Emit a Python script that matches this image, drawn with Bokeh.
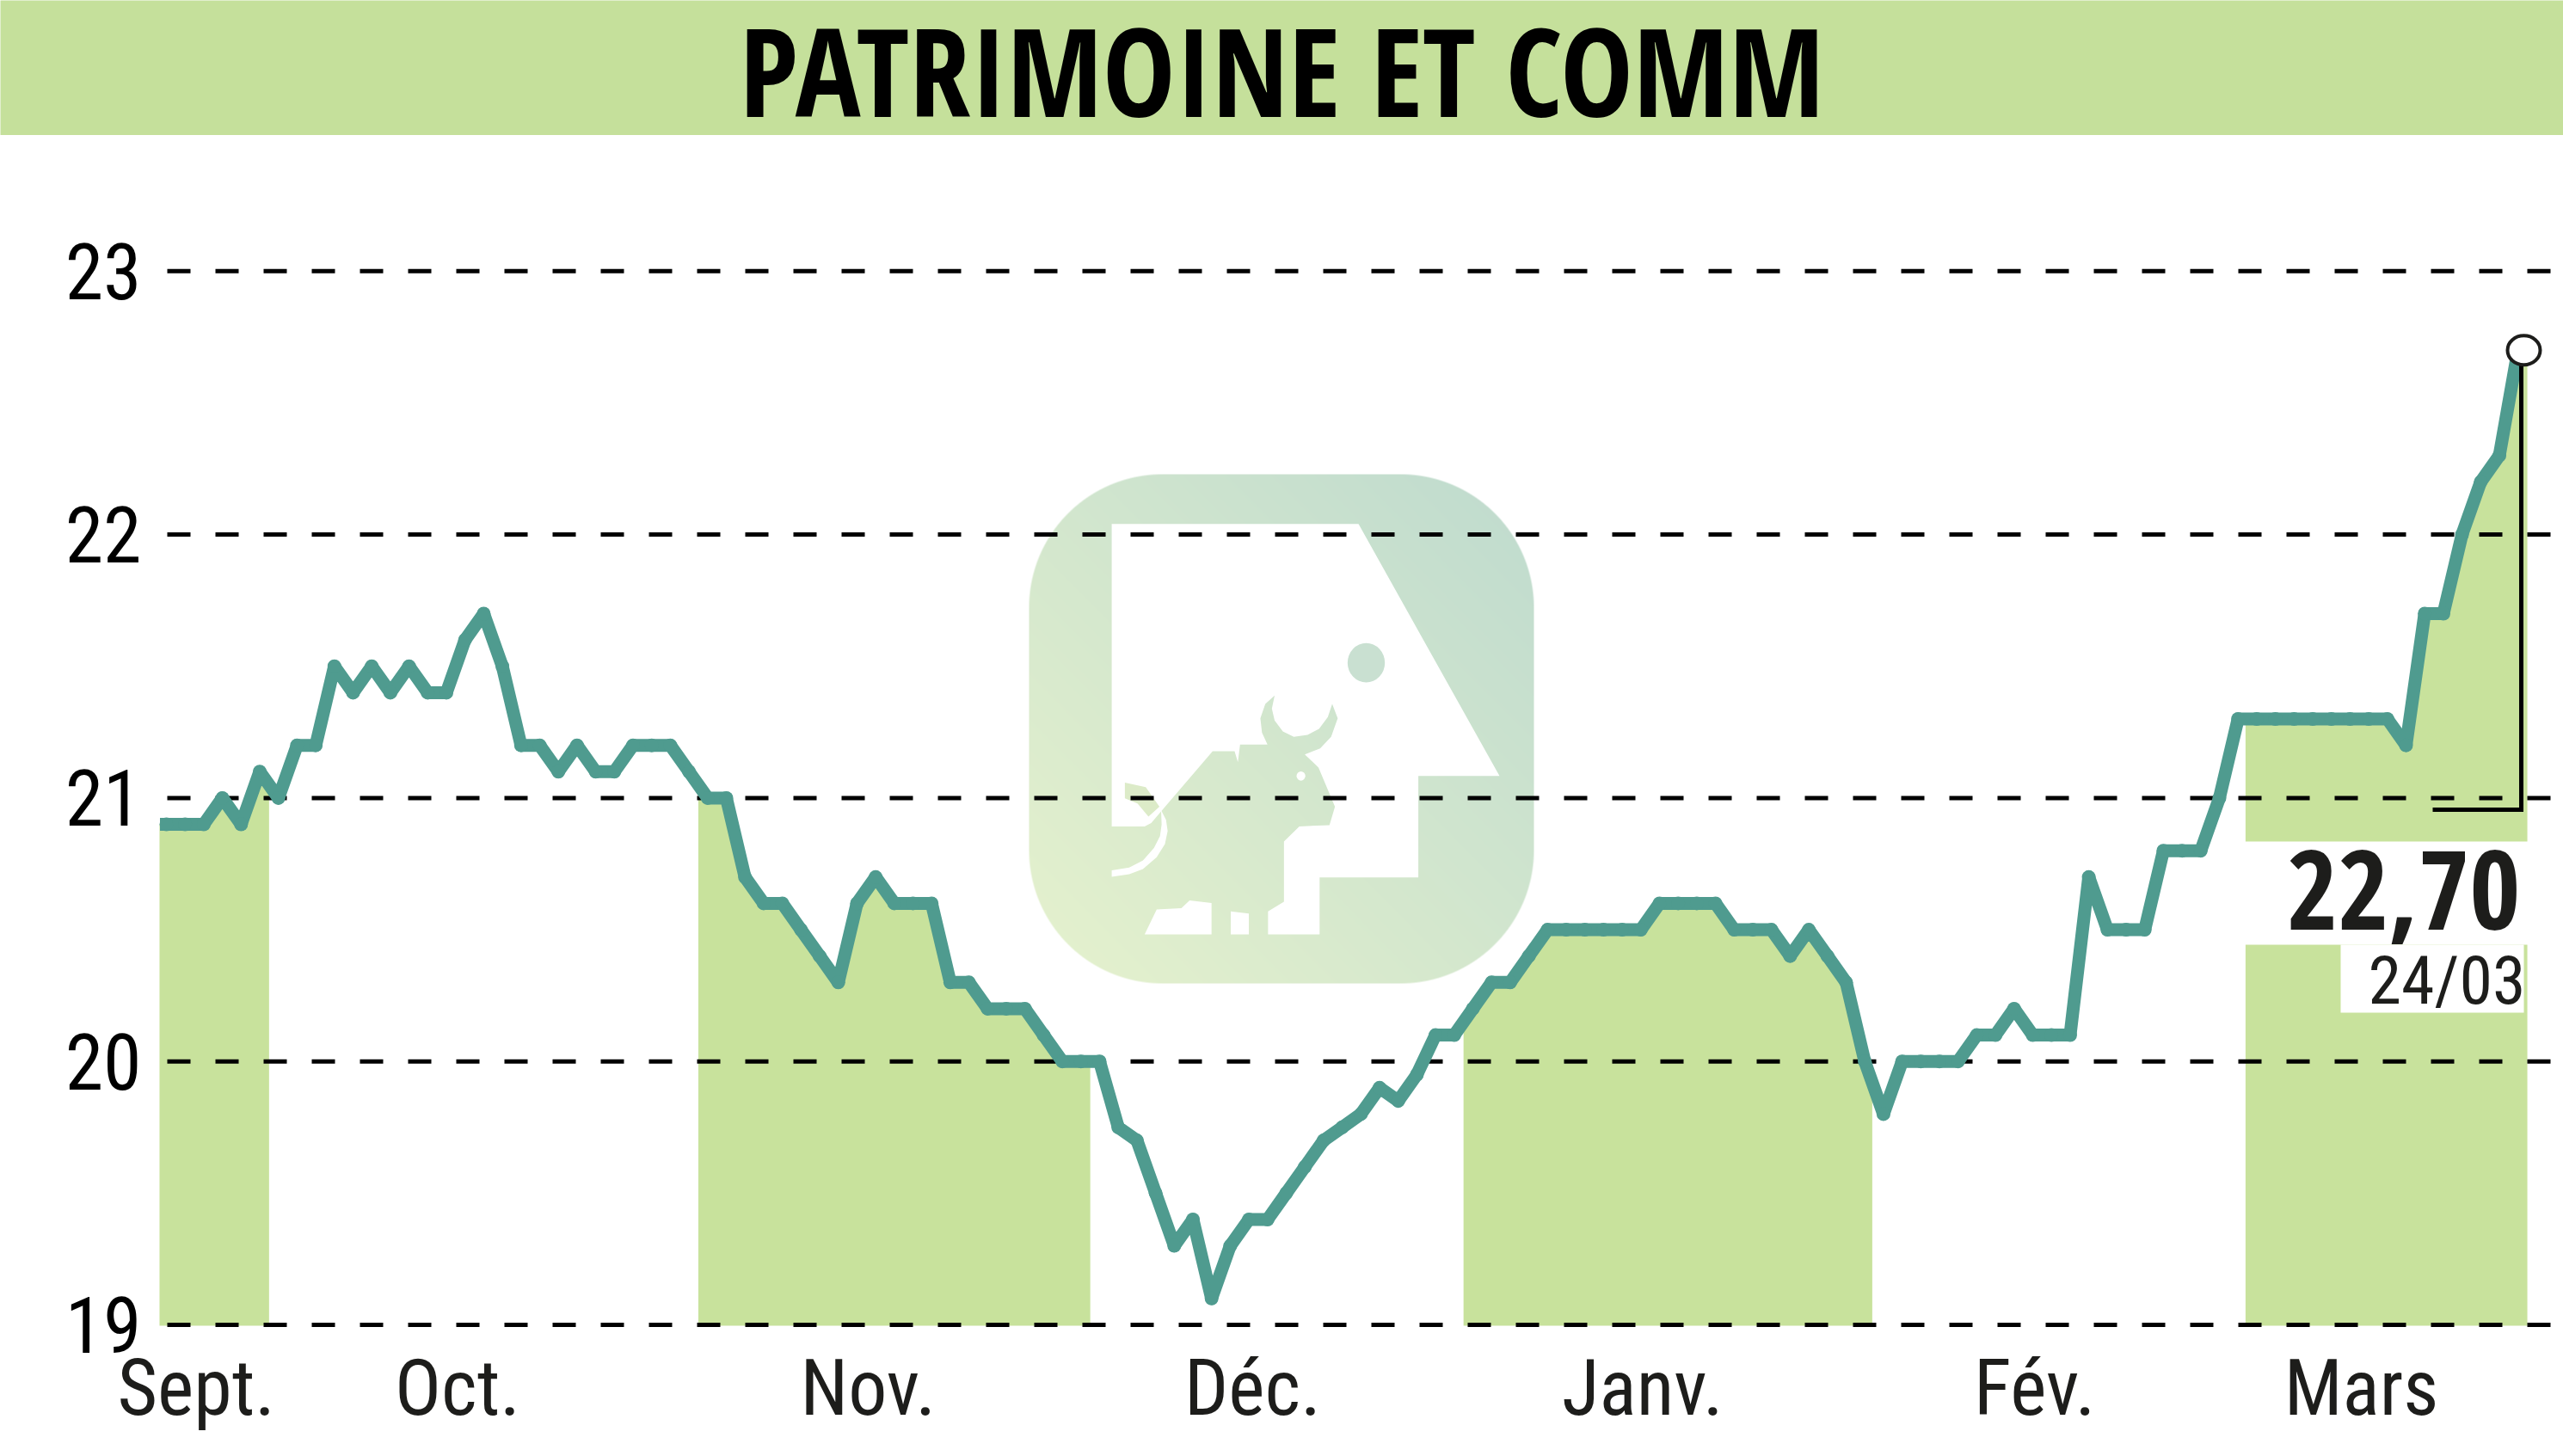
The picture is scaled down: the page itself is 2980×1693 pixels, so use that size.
import numpy as np
from bokeh.plotting import figure
from bokeh.layouts import column
from bokeh.embed import file_html
from bokeh.resources import INLINE
from bokeh.core.properties import value
from bokeh.models import FixedTicker, Range1d

TITLE = "PATRIMOINE ET COMM"
DATE_LABEL = "24/03"
prices = [20.9,20.9,20.9,21.0,20.9,21.1,21.0,21.2,21.2,21.5,21.4,21.5,21.4,21.5,21.4,21.4,21.6,21.7,21.5,21.2,
          21.2,21.1,21.2,21.1,21.1,21.2,21.2,21.2,21.1,21.0,21.0,20.7,20.6,20.6,20.5,20.4,20.3,20.6,20.7,20.6,
          20.6,20.6,20.3,20.3,20.2,20.2,20.2,20.1,20.0,20.0,20.0,19.75,19.7,19.5,19.3,19.4,19.1,19.3,19.4,19.4,
          19.5,19.6,19.7,19.75,19.8,19.9,19.85,19.95,20.1,20.1,20.2,20.3,20.3,20.4,20.5,20.5,20.5,20.5,20.5,20.5,
          20.6,20.6,20.6,20.6,20.5,20.5,20.5,20.4,20.5,20.4,20.3,20.0,19.8,20.0,20.0,20.0,20.0,20.1,20.1,20.2,
          20.1,20.1,20.1,20.7,20.5,20.5,20.5,20.8,20.8,20.8,21.0,21.3,21.3,21.3,21.3,21.3,21.3,21.3,21.3,21.3,
          21.2,21.7,21.7,22.0,22.2,22.3,22.7]
y_ticks = [19, 20, 21, 22, 23]
month_labels = ["Sept.", "Oct.", "Nov.", "Déc.", "Janv.", "Fév.", "Mars"]
month_ticks = [1.6, 15.6, 37.6, 58.2, 79.1, 100.1, 117.6]
band_starts = [-0.37, 28.5, 69.5, 111.4]
band_ends = [5.5, 49.5, 91.4, 126.5]

INK = "#1d1d1b"
GREEN = "#c8e29c"
TEAL = "#4f9b8f"
BOLD_FONT = value("Open Sans Condensed")
HEADER_H = 157

# pixel <-> data helpers (page pixels of the 2980x1693 picture)
def X(px):
    return (np.asarray(px, dtype=float) - 193.0) / 21.7
def Y(py):
    return 19 + (1540.0 - np.asarray(py, dtype=float)) / 306.3

header = figure(width=2980, height=HEADER_H, x_range=Range1d(0, 2980), y_range=Range1d(HEADER_H, 0),
                output_backend="svg", toolbar_location=None, min_border=0, frame_align=False,
                background_fill_color="#c5e09b", border_fill_color="#c5e09b", outline_line_color=None)
header.axis.visible = False
header.grid.visible = False
header.text([1490], [80], text=[TITLE], text_font=BOLD_FONT, text_font_style="bold", text_font_size="142px",
            text_align="center", text_baseline="middle", text_color="#000000")

p = figure(width=2980, height=1693 - HEADER_H, x_range=Range1d(float(X(180)), float(X(2980))),
           y_range=Range1d(float(Y(1550)), float(Y(HEADER_H))), output_backend="svg", toolbar_location=None,
           min_border_left=180, min_border_right=0, min_border_top=0, min_border_bottom=143, frame_align=False,
           background_fill_color="white", border_fill_color="white", outline_line_color=None)
p.grid.visible = False

idx = np.arange(len(prices))
arr = np.array(prices)
bottom = float(Y(1541))
for a, b in zip(band_starts, band_ends):
    inner = idx[(idx > a) & (idx < b)]
    xs = np.concatenate([[a], inner, [b]])
    ys = np.interp(xs, idx, arr)
    p.varea(x=xs, y1=np.full(len(xs), bottom), y2=ys, fill_color=GREEN)

# white backings behind the closing value and date
p.quad(left=[float(X(2600))], right=[float(X(2945))], top=[float(Y(978))], bottom=[float(Y(1098))], fill_color="white", line_color=None)
p.quad(left=[float(X(2721))], right=[float(X(2934))], top=[float(Y(1098))], bottom=[float(Y(1177))], fill_color="white", line_color=None)

# logo: gradient rounded square
lx0, lx1, ly0, ly1 = 1196, 1783, 551, 1143
w, h = lx1 - lx0, ly1 - ly0
gx, gy = np.meshgrid((np.arange(w) + .5), (np.arange(h) + .5))
t = np.clip((gx / w + (h - gy) / h) / 2, 0, 1)
c0 = np.array([0xe6, 0xf2, 0xcd]); c1 = np.array([0xbf, 0xdb, 0xcf])
rad = 155
dx = np.maximum(np.maximum(rad - gx, gx - (w - rad)), 0)
dy = np.maximum(np.maximum(rad - gy, gy - (h - rad)), 0)
alpha = np.clip(rad - np.hypot(dx, dy) + .5, 0, 1)
rgba = np.zeros((h, w), dtype=np.uint32)
view = rgba.view(np.uint8).reshape((h, w, 4))
for k in range(3):
    view[:, :, k] = (c0[k] + (c1[k] - c0[k]) * t).astype(np.uint8)
view[:, :, 3] = (alpha * 255).astype(np.uint8)
p.image_rgba(image=[rgba[::-1]], x=float(X(lx0)), y=float(Y(ly1)), dw=float(X(lx1) - X(lx0)), dh=float(Y(ly0) - Y(ly1)))

def zx(v): return 1000 + np.asarray(v, dtype=float) / 1.568
def zy(v): return 500 + np.asarray(v, dtype=float) / 1.314
house = [(458,143),(908,143),(1165,528),(1017,528),(1017,683),(837,683),(837,770),(743,770),(743,735),(772,720),
         (772,628),(800,605),(855,603),(865,575),(850,545),(835,515),(810,495),(838,486),(858,468),(870,440),(860,418),
         (852,438),(836,456),(815,465),(790,468),(770,460),(755,443),(750,425),(755,405),(738,418),(729,440),(732,462),(742,480),
         (692,480),(688,507),(682,490),(642,490),(552,578),(530,600),(518,605),(458,605)]
p.patch(X(zx([a for a, _ in house])), Y(zy([b for _, b in house])), fill_color="white", line_color=None)
for piece in ([(518,770),(540,732),(585,730),(600,718),(640,722),(640,770)], [(675,735),(708,738),(708,770),(675,770)],
              [(548,580),(557,595),(560,612),(555,632),(540,652),(515,670),(490,678),(458,682),(458,672),(490,668),(515,657),(535,638),(546,620),(549,602)]):
    p.patch(X(zx([a for a, _ in piece])), Y(zy([b for _, b in piece])), fill_color="white", line_color=None)
tuft = [(482,538),(520,545),(545,575),(525,590),(505,570),(482,562)]
p.patch(X(zx([a for a, _ in tuft])), Y(zy([b for _, b in tuft])), fill_color="#dcebc8", line_color=None)
p.ellipse([float(X(zx(922)))], [float(Y(zy(355)))], width=float(X(zx(956)) - X(zx(888))),
          height=float(Y(zy(325)) - Y(zy(385))), fill_color="#c9e0d1", line_color=None)
p.ellipse([float(X(zx(803)))], [float(Y(zy(528)))], width=float(X(zx(811)) - X(zx(795))),
          height=float(Y(zy(521)) - Y(zy(535))), fill_color="white", line_color=None)

# dashed horizontal levels
p.segment(x0=[float(X(194))] * len(y_ticks), x1=[float(X(2980))] * len(y_ticks), y0=y_ticks, y1=y_ticks,
          line_color="#000000", line_width=5, line_dash="27 29", line_cap="butt")

# price line
p.line(idx, arr, line_color=TEAL, line_width=15, line_join="round", line_cap="square")
p.scatter(idx, arr, size=16, marker="circle", fill_color=TEAL, line_color=None)

# closing callout
p.line([float(X(2828)), float(X(2931)), float(X(2931))], [float(Y(941)), float(Y(941)), prices[-1]],
       line_color="#000000", line_width=5, line_join="miter")
p.ellipse([float(X(2934))], [prices[-1]], width=float(X(2953) - X(2915)), height=float(Y(389) - Y(423)),
          fill_color="white", line_color="#1d1d1b", line_width=4)
p.text([float(X(2930))], [float(Y(1034))], text=[f"{prices[-1]:.2f}".replace(".", ",")], text_font=BOLD_FONT,
       text_font_style="bold", text_font_size="128px", text_align="right", text_baseline="alphabetic", text_color=INK)
p.text([float(X(2936))], [float(Y(1140))], text=[DATE_LABEL], text_font=value("Roboto Condensed"), text_font_size="78px",
       text_align="right", text_baseline="alphabetic", text_color=INK)

yax = p.yaxis[0]
yax.ticker = FixedTicker(ticks=y_ticks)
yax.axis_line_color = None
yax.major_tick_line_color = None
yax.minor_tick_line_color = None
yax.major_label_text_font = "Roboto Condensed"
yax.major_label_text_font_size = "90px"
yax.major_label_text_color = "#000000"
yax.major_label_standoff = 16
yax.major_tick_in = 0
yax.major_tick_out = 0

xax = p.xaxis[0]
xax.ticker = FixedTicker(ticks=month_ticks)
xax.major_label_overrides = dict(zip(month_ticks, month_labels))
xax.axis_line_color = None
xax.major_tick_line_color = None
xax.minor_tick_line_color = None
xax.major_label_text_font = "Roboto Condensed"
xax.major_label_text_font_size = "90px"
xax.major_label_text_color = INK
xax.major_label_standoff = 11
xax.major_tick_in = 0
xax.major_tick_out = 0

page = column(header, p, spacing=0)
open("out.html", "w").write(file_html(page, INLINE))
